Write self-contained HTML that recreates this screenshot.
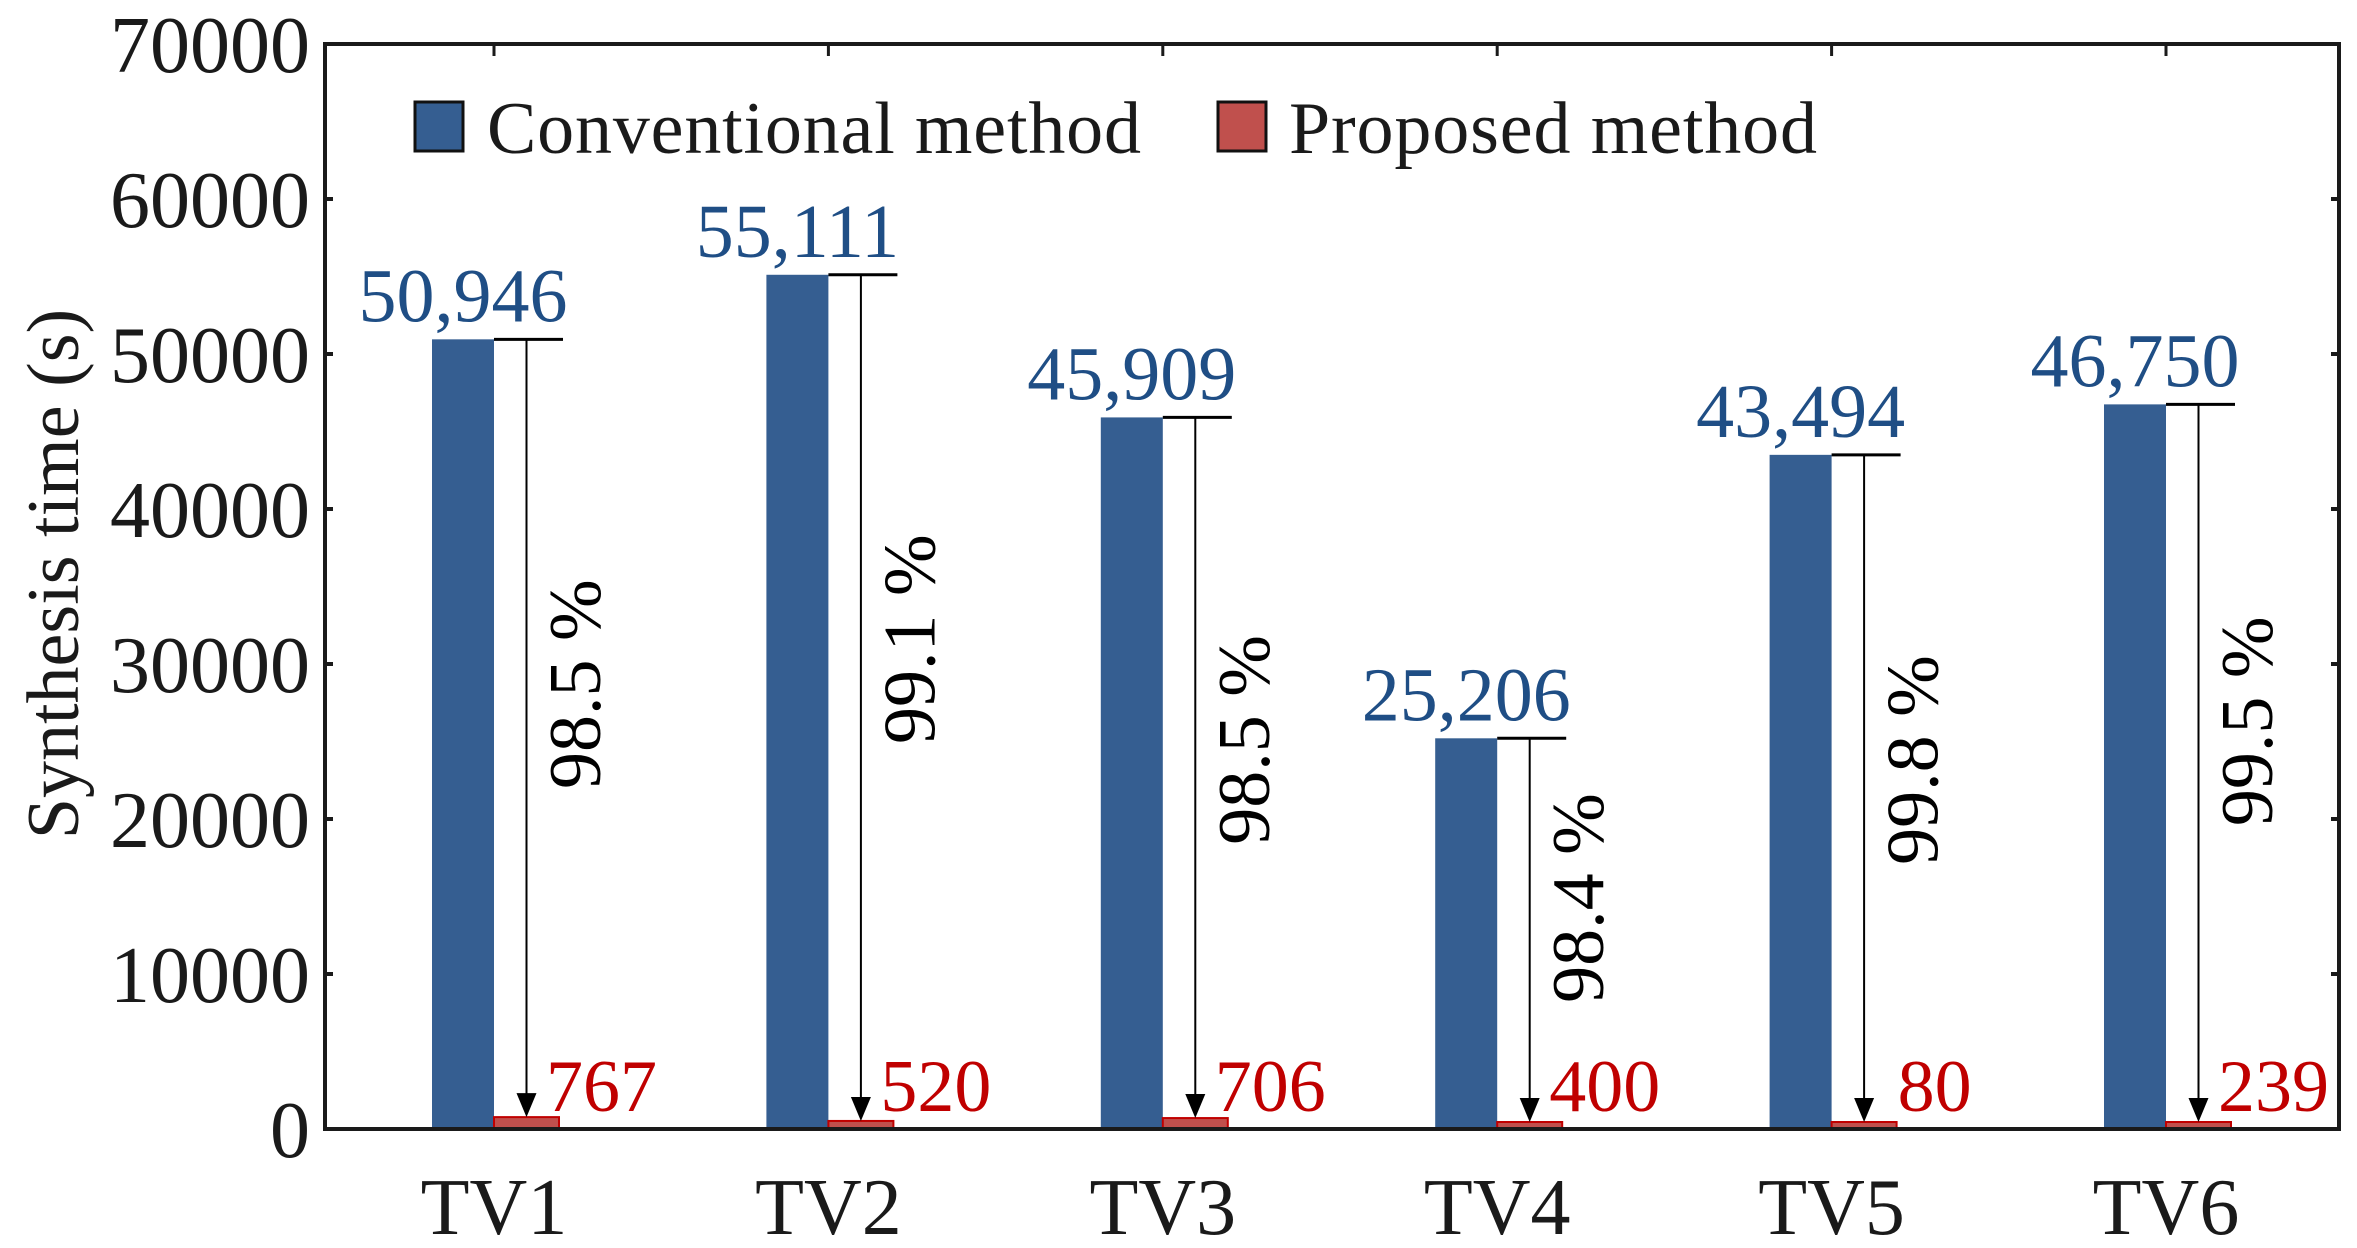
<!DOCTYPE html>
<html><head><meta charset="utf-8"><style>
html,body{margin:0;padding:0;background:#fff;}
svg{display:block;font-family:"Liberation Serif",serif;}
</style></head><body>
<svg id="chart" width="2357" height="1248" viewBox="0 0 2357 1248" xmlns="http://www.w3.org/2000/svg">
<g id="plot"></g>
</svg>
<script>
const categories = ["TV1","TV2","TV3","TV4","TV5","TV6"];
const conventional = [50946,55111,45909,25206,43494,46750];
const proposed = [767,520,706,400,80,239];
const conventionalLabels = ["50,946","55,111","45,909","25,206","43,494","46,750"];
const proposedLabels = ["767","520","706","400","80","239"];
const reductionLabels = ["98.5 %","99.1 %","98.5 %","98.4 %","99.8 %","99.5 %"];
const reductionLabelValues = [28700,31600,25100,14900,23800,26300];
const yTicks = [0,10000,20000,30000,40000,50000,60000,70000];

const NS="http://www.w3.org/2000/svg";
const g=document.getElementById('plot');
const L=325,R=2339,T=44,B=1129,YMAX=70000;
const y=v=>B-(v/YMAX)*(B-T);
const step=334.4;
const cx=i=>494+i*step;
const BW=62,RW=65;
function el(tag,attrs,text){const e=document.createElementNS(NS,tag);for(const k in attrs)e.setAttribute(k,attrs[k]);if(text!==undefined)e.textContent=text;g.appendChild(e);return e;}

categories.forEach((c,i)=>{
  const x0=cx(i);
  let e=el('rect',{x:x0-BW,y:y(conventional[i]),width:BW,height:B-y(conventional[i]),fill:'#355e91'});
  
  
  const rh=Math.max(B-y(proposed[i]),7);
  e=el('rect',{x:x0,y:B-rh,width:RW,height:rh,fill:'#c0504d',stroke:'#c00000','stroke-width':2});
  
  
  const ax=x0+RW/2, top=y(conventional[i]);
  e=el('line',{x1:x0,x2:x0+RW+4,y1:top,y2:top,stroke:'#000','stroke-width':3});
  
  
  e=el('line',{x1:ax,x2:ax,y1:top,y2:B-rh-22,stroke:'#000','stroke-width':2});
  
  
  e=el('polygon',{points:`${ax-10},${B-rh-24} ${ax+10},${B-rh-24} ${ax},${B-rh}`,fill:'#000'});
  
  
  e=el('text',{x:x0-BW/2,y:top-18,'font-size':76,fill:'#1f4e85','text-anchor':'middle'},conventionalLabels[i]);
  
  
  e=el('text',{x:x0+RW-13+(proposed[i]<100?14:0),y:B-18,'font-size':74,fill:'#c00000'},proposedLabels[i]);
  
  
  const ly=y(reductionLabelValues[i]), lx=x0+82;
  e=el('text',{x:lx,y:ly,'font-size':74,fill:'#000','text-anchor':'middle','dominant-baseline':'central',transform:`rotate(-90 ${lx} ${ly})`},reductionLabels[i]);
  
  
  e=el('text',{x:x0,y:1234,'font-size':80,fill:'#1a1a1a','text-anchor':'middle'},c);
  
  
  e=el('line',{x1:x0,x2:x0,y1:T,y2:T+12,stroke:'#1a1a1a','stroke-width':3});
  
  
});

yTicks.forEach(v=>{
  let e=el('line',{x1:L,x2:L+8,y1:y(v),y2:y(v),stroke:'#1a1a1a','stroke-width':4});
  
  
  e=el('line',{x1:R-8,x2:R,y1:y(v),y2:y(v),stroke:'#1a1a1a','stroke-width':4});
  
  
  e=el('text',{x:310,y:y(v)+28,'font-size':80,fill:'#1a1a1a','text-anchor':'end'},String(v));
  
  
});

let f=el('rect',{x:L,y:T,width:R-L,height:B-T,fill:'none',stroke:'#1a1a1a','stroke-width':4});



let t=el('text',{x:0,y:0,'font-size':74,fill:'#1a1a1a','text-anchor':'middle',transform:'translate(78 574) rotate(-90)'},'Synthesis time (s)');



let lg=el('rect',{x:415,y:102,width:48,height:49,fill:'#355e91',stroke:'#111','stroke-width':3});


lg=el('text',{x:487,y:153,'font-size':74,fill:'#1a1a1a',textLength:654},'Conventional method');


lg=el('rect',{x:1218,y:102,width:48,height:49,fill:'#c0504d',stroke:'#111','stroke-width':3});


lg=el('text',{x:1289,y:153,'font-size':74,fill:'#1a1a1a',textLength:528},'Proposed method');


</script>
</body></html>
